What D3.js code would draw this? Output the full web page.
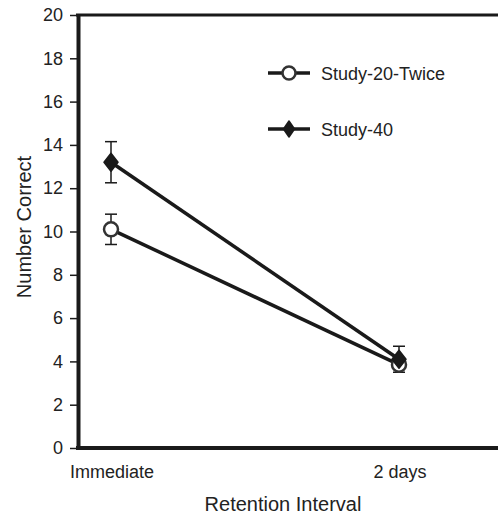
<!DOCTYPE html>
<html>
<head>
<meta charset="utf-8">
<script src="https://cdn.jsdelivr.net/npm/d3@7"></script>
<style>
  body { margin: 0; background: #fff; }
  svg { display: block; font-family: "Liberation Sans", Arial, sans-serif; }
</style>
</head>
<body>
<div id="container"></div>
<script>
// chart values
const intervals = ["Immediate", "2 days"];
const seriesNames = ["Study-20-Twice", "Study-40"];
const twiceMeans = [10.1, 3.85];
const twiceErr = [0.7, 0.15];
const study40Means = [13.2, 4.1];
const study40Err = [0.95, 0.6];
const yTicks = [0, 2, 4, 6, 8, 10, 12, 14, 16, 18, 20];

const width = 498;
const height = 514;
const marginLeft = 78;
const marginTop = 15;
const plotBottom = 448;

const svg = d3.select("#container")
  .append("svg")
  .attr("width", width)
  .attr("height", height);

const x = d3.scalePoint()
  .domain(intervals)
  .range([111, 399]);

const y = d3.scaleLinear()
  .domain([0, 20])
  .range([plotBottom, marginTop]);

const ink = "#1a1a1a";

// left axis
const yAxis = svg.append("g")
  .attr("transform", `translate(${marginLeft},0)`)
  .call(d3.axisLeft(y).tickValues(yTicks).tickSize(8).tickPadding(7).tickSizeOuter(0));
yAxis.select(".domain").attr("stroke", ink).attr("stroke-width", 4);
yAxis.selectAll(".tick line").attr("stroke", ink).attr("stroke-width", 1.5);
yAxis.selectAll(".tick text")
  .attr("fill", "#222")
  .attr("font-size", 18)
  .attr("font-family", "Liberation Sans, Arial, sans-serif");

// top and bottom frame lines
svg.append("line")
  .attr("x1", marginLeft - 2).attr("x2", width)
  .attr("y1", marginTop).attr("y2", marginTop)
  .attr("stroke", ink).attr("stroke-width", 3);
svg.append("line")
  .attr("x1", marginLeft - 2).attr("x2", width)
  .attr("y1", plotBottom).attr("y2", plotBottom)
  .attr("stroke", ink).attr("stroke-width", 4);

// category labels
svg.selectAll(".cat")
  .data(intervals)
  .enter()
  .append("text")
  .attr("class", "cat")
  .attr("x", d => x(d) + 1)
  .attr("y", 478)
  .attr("text-anchor", "middle")
  .attr("font-size", 18)
  .attr("fill", "#222")
  .text(d => d);

// axis titles
svg.append("text")
  .attr("x", 283)
  .attr("y", 511)
  .attr("text-anchor", "middle")
  .attr("font-size", 20)
  .attr("fill", "#222")
  .text("Retention Interval");

svg.append("text")
  .attr("transform", "translate(31,227) rotate(-90)")
  .attr("text-anchor", "middle")
  .attr("font-size", 20)
  .attr("fill", "#222")
  .text("Number Correct");

const series = [
  { name: seriesNames[0], means: twiceMeans, err: twiceErr, marker: "circle" },
  { name: seriesNames[1], means: study40Means, err: study40Err, marker: "diamond" }
];

const line = d3.line()
  .x((d, i) => x(intervals[i]))
  .y(d => y(d));

// connecting lines
svg.selectAll(".series-line")
  .data(series)
  .enter()
  .append("path")
  .attr("class", "series-line")
  .attr("d", d => line(d.means))
  .attr("fill", "none")
  .attr("stroke", ink)
  .attr("stroke-width", 3.5);

function drawMarker(g, kind, big) {
  if (kind === "circle") {
    g.append("circle")
      .attr("r", big ? 7 : 6.5)
      .attr("fill", "#fff")
      .attr("stroke", "#333")
      .attr("stroke-width", 2.5);
  } else {
    const w = big ? 7 : 5.5;
    const h = big ? 9 : 8;
    g.append("path")
      .attr("d", `M0,${-h}L${w},0L0,${h}L${-w},0Z`)
      .attr("fill", ink)
      .attr("stroke", ink)
      .attr("stroke-width", 1.5)
      .attr("stroke-linejoin", "round");
  }
}

// error bars
series.forEach(s => {
  s.means.forEach((m, i) => {
    const cx = x(intervals[i]);
    const lo = y(m - s.err[i]);
    const hi = y(m + s.err[i]);
    const eb = svg.append("g").attr("stroke", ink).attr("stroke-width", 1.5);
    eb.append("line").attr("x1", cx).attr("x2", cx).attr("y1", lo).attr("y2", hi);
    if (s.err[i] > 0.3) {
      eb.append("line").attr("x1", cx - 6).attr("x2", cx + 6).attr("y1", lo).attr("y2", lo);
    }
    eb.append("line").attr("x1", cx - 6).attr("x2", cx + 6).attr("y1", hi).attr("y2", hi);
  });
});

// markers
series.forEach(s => {
  s.means.forEach((m, i) => {
    const g = svg.append("g")
      .attr("transform", `translate(${x(intervals[i])},${y(m)})`);
    drawMarker(g, s.marker, true);
  });
});

// legend
const legend = svg.selectAll(".legend")
  .data(series)
  .enter()
  .append("g")
  .attr("class", "legend")
  .attr("transform", (d, i) => `translate(268,${73 + i * 56})`);

legend.append("line")
  .attr("x1", 0).attr("x2", 42)
  .attr("stroke", ink)
  .attr("stroke-width", 3.5);

legend.each(function (d) {
  const g = d3.select(this).append("g").attr("transform", "translate(21,0)");
  drawMarker(g, d.marker, false);
});

legend.append("text")
  .attr("x", 53)
  .attr("y", 7)
  .attr("font-size", 18)
  .attr("fill", "#222")
  .text(d => d.name);
</script>
</body>
</html>
